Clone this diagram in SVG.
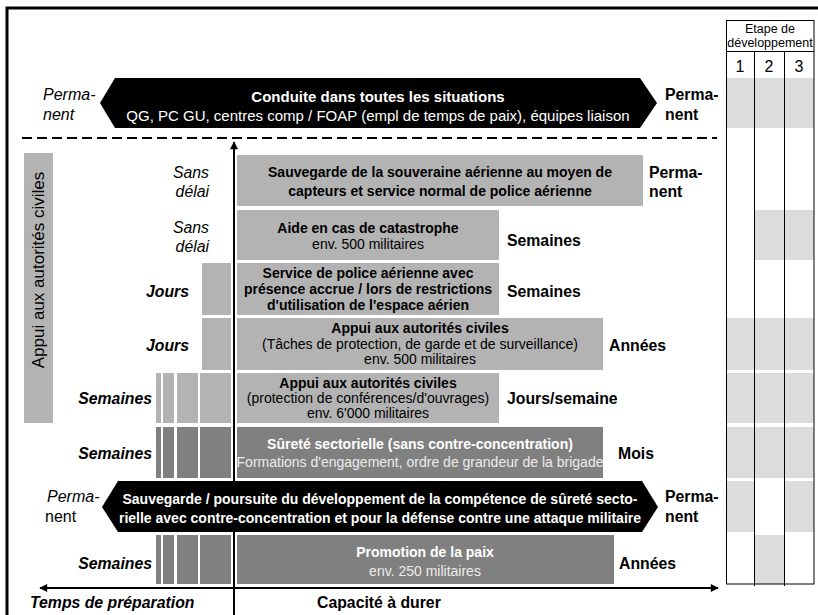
<svg xmlns="http://www.w3.org/2000/svg" width="818" height="615" viewBox="0 0 818 615">
<defs>
<style>
text{font-family:"Liberation Sans",Arial,sans-serif;}
.bx{font-size:14px;text-anchor:middle;fill:#000;}
.b{font-weight:bold;}
.w{fill:#fff;}
.wl{fill:#ececec;}
.lt{fill:#b3b3b3;}
.dk{fill:#808080;}
.lab{font-size:15.8px;font-weight:bold;fill:#000;}
.ll{font-size:15.8px;font-style:italic;fill:#000;text-anchor:end;}
.llb{font-weight:bold;}
.tg{fill:#dcdcdc;}
.tl{stroke:#000;stroke-width:1;fill:none;}
</style>
<marker id="ah" viewBox="0 0 10 10" refX="9" refY="5" markerWidth="9" markerHeight="8" markerUnits="userSpaceOnUse" orient="auto">
<path d="M0,0 L10,5 L0,10 z" fill="#000"/>
</marker>
</defs>
<rect x="0" y="0" width="818" height="615" fill="#fff"/>
<path d="M7,615 L7,8 L818,8" fill="none" stroke="#000" stroke-width="3"/>

<g id="connectors">
<line x1="22" y1="138" x2="717" y2="138" stroke="#000" stroke-width="2" stroke-dasharray="10 5"/>
<line x1="234" y1="615" x2="234" y2="142" stroke="#000" stroke-width="2" marker-end="url(#ah)"/>
<line x1="233" y1="588" x2="718" y2="588" stroke="#000" stroke-width="2" marker-end="url(#ah)"/>
<line x1="235" y1="588" x2="40" y2="588" stroke="#000" stroke-width="2" marker-end="url(#ah)"/>
</g>

<g id="conduite">
<polygon points="100,103 115,78 640,78 657,103 640,128 115,128" fill="#000"/>
<text x="378" y="102" class="b w" style="font-size:15px;text-anchor:middle">Conduite dans toutes les situations</text>
<text x="378" y="121" class="w" style="font-size:15px;text-anchor:middle">QG, PC GU, centres comp / FOAP (empl de temps de paix), équipes liaison</text>
<text x="43" y="100" style="font-size:16px;font-style:italic">Perma-</text>
<text x="43" y="120" style="font-size:16px;font-style:italic">nent</text>
<text x="665" y="100" class="lab">Perma-</text>
<text x="665" y="120" class="lab">nent</text>
</g>

<g id="appui-bar">
<rect x="24" y="153" width="29" height="270" class="lt"/>
<text transform="translate(44,270) rotate(-90)" style="font-size:17px;text-anchor:middle">Appui aux autorités civiles</text>
</g>

<g id="row1">
<rect x="237" y="155" width="406" height="51" class="lt"/>
<text x="440" y="177" class="bx b">Sauvegarde de la souveraine aérienne au moyen de</text>
<text x="440" y="196" class="bx b">capteurs et service normal de police aérienne</text>
<text x="209" y="178" class="ll">Sans</text>
<text x="209" y="197" class="ll">délai</text>
<text x="649" y="178" class="lab">Perma-</text>
<text x="649" y="197" class="lab">nent</text>
</g>

<g id="row2">
<rect x="237" y="210" width="262" height="50" class="lt"/>
<text x="368" y="233" class="bx b">Aide en cas de catastrophe</text>
<text x="368" y="249" class="bx">env. 500 militaires</text>
<text x="209" y="233" class="ll">Sans</text>
<text x="209" y="252" class="ll">délai</text>
<text x="507" y="246" class="lab">Semaines</text>
</g>

<g id="row3">
<rect x="202" y="263" width="29" height="52" class="lt"/>
<rect x="237" y="263" width="262" height="52" class="lt"/>
<text x="368" y="278" class="bx b">Service de police aérienne avec</text>
<text x="368" y="294" class="bx b">présence accrue / lors de restrictions</text>
<text x="368" y="310" class="bx b">d'utilisation de l'espace aérien</text>
<text x="189" y="297" class="ll llb">Jours</text>
<text x="507" y="297" class="lab">Semaines</text>
</g>

<g id="row4">
<rect x="202" y="318" width="29" height="52" class="lt"/>
<rect x="237" y="318" width="366" height="52" class="lt"/>
<text x="420" y="333" class="bx b">Appui aux autorités civiles</text>
<text x="420" y="349" class="bx">(Tâches de protection, de garde et de surveillance)</text>
<text x="420" y="364" class="bx">env. 500 militaires</text>
<text x="189" y="351" class="ll llb">Jours</text>
<text x="609" y="351" class="lab">Années</text>
</g>

<g id="row5">
<rect x="156" y="373" width="5" height="50" class="lt"/>
<rect x="163" y="373" width="11" height="50" class="lt"/>
<rect x="177" y="373" width="21" height="50" class="lt"/>
<rect x="200" y="373" width="31" height="50" class="lt"/>
<rect x="237" y="373" width="262" height="50" class="lt"/>
<text x="368" y="388" class="bx b">Appui aux autorités civiles</text>
<text x="368" y="403" class="bx">(protection de conférences/d'ouvrages)</text>
<text x="368" y="418" class="bx">env. 6'000 militaires</text>
<text x="152" y="404" class="ll llb">Semaines</text>
<text x="507" y="404" class="lab">Jours/semaine</text>
</g>

<g id="row6">
<rect x="156" y="427" width="5" height="51" class="dk"/>
<rect x="163" y="427" width="11" height="51" class="dk"/>
<rect x="177" y="427" width="21" height="51" class="dk"/>
<rect x="200" y="427" width="31" height="51" class="dk"/>
<rect x="237" y="427" width="366" height="51" class="dk"/>
<text x="420" y="449" class="bx b w">Sûreté sectorielle (sans contre-concentration)</text>
<text x="420" y="467" class="bx wl">Formations d'engagement, ordre de grandeur de la brigade</text>
<text x="152" y="459" class="ll llb">Semaines</text>
<text x="618" y="459" class="lab">Mois</text>
</g>

<g id="row7">
<polygon points="102,507 118,481 642,481 658,507 642,532 118,532" fill="#000"/>
<text x="380" y="504" class="bx b w">Sauvegarde / poursuite du développement de la compétence de sûreté secto-</text>
<text x="380" y="523" class="bx b w">rielle avec contre-concentration et pour la défense contre une attaque militaire</text>
<text x="47" y="502" style="font-size:16px;font-style:italic">Perma-</text>
<text x="45" y="522" style="font-size:16px">nent</text>
<text x="665" y="502" class="lab">Perma-</text>
<text x="665" y="522" class="lab">nent</text>
</g>

<g id="row8">
<rect x="156" y="535" width="5" height="49" class="dk"/>
<rect x="163" y="535" width="11" height="49" class="dk"/>
<rect x="177" y="535" width="21" height="49" class="dk"/>
<rect x="200" y="535" width="31" height="49" class="dk"/>
<rect x="237" y="535" width="377" height="49" class="dk"/>
<text x="425" y="557" class="bx b w">Promotion de la paix</text>
<text x="425" y="576" class="bx wl">env. 250 militaires</text>
<text x="152" y="569" class="ll llb">Semaines</text>
<text x="619" y="569" class="lab">Années</text>
</g>

<g id="table">
<rect x="726" y="78" width="88" height="50" class="tg"/>
<rect x="754" y="210" width="60" height="50" class="tg"/>
<rect x="726" y="318" width="88" height="52" class="tg"/>
<rect x="726" y="373" width="88" height="50" class="tg"/>
<rect x="726" y="427" width="88" height="51" class="tg"/>
<rect x="726" y="481" width="28" height="51" class="tg"/>
<rect x="784" y="481" width="30" height="51" class="tg"/>
<rect x="754" y="535" width="30" height="49" class="tg"/>
<rect x="726.5" y="20.5" width="87.5" height="563.5" class="tl"/>
<line x1="726" y1="51.5" x2="814" y2="51.5" class="tl"/>
<line x1="754.5" y1="51" x2="754.5" y2="586" class="tl"/>
<line x1="784.5" y1="51" x2="784.5" y2="586" class="tl"/>
<text x="770" y="33" style="font-size:12.5px;text-anchor:middle">Etape de</text>
<text x="770" y="47" style="font-size:12.5px;text-anchor:middle">développement</text>
<text x="740" y="72" style="font-size:16px;text-anchor:middle">1</text>
<text x="769" y="72" style="font-size:16px;text-anchor:middle">2</text>
<text x="799" y="72" style="font-size:16px;text-anchor:middle">3</text>
</g>

<g id="axis-labels">
<text x="30" y="608" style="font-size:15.8px;font-weight:bold;font-style:italic">Temps de préparation</text>
<text x="317" y="608" style="font-size:15.8px;font-weight:bold">Capacité à durer</text>
</g>
</svg>
